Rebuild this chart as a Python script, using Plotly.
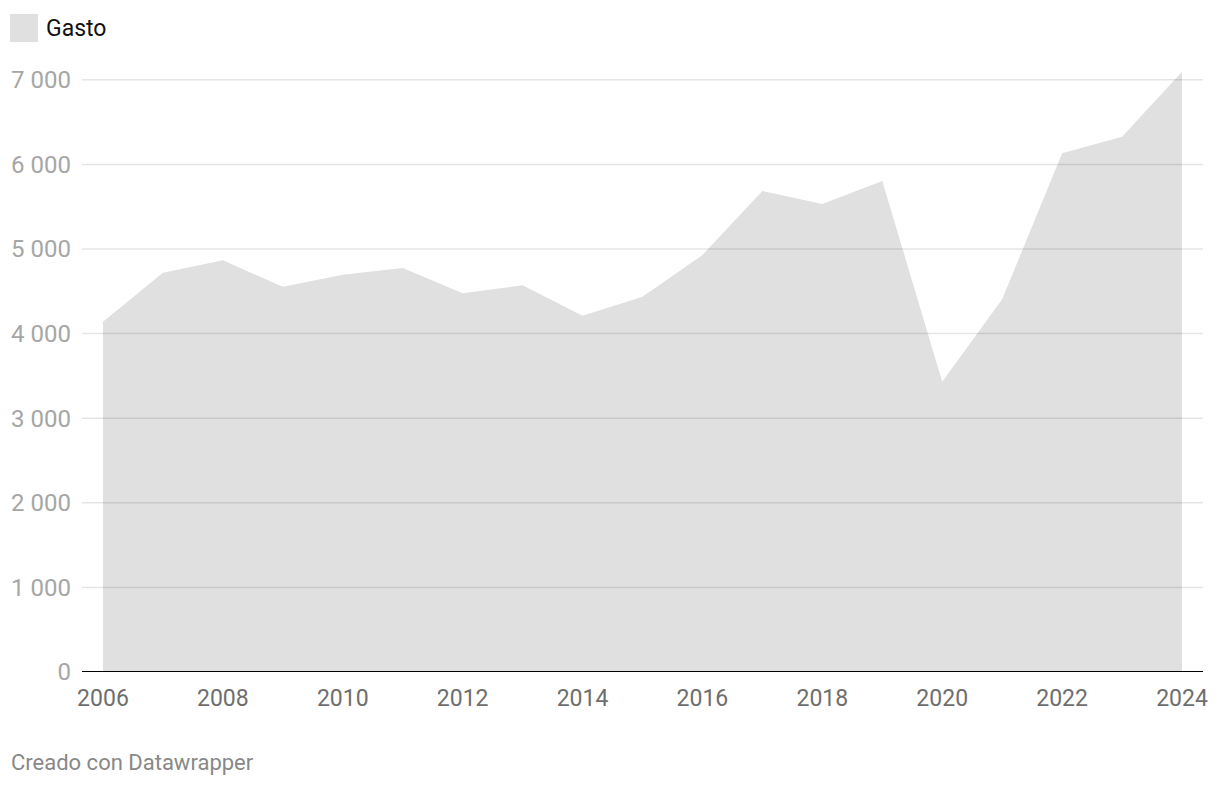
import plotly.graph_objects as go

years = list(range(2006, 2025))
gasto = [4141, 4720, 4866, 4554, 4696, 4775, 4476, 4571, 4212, 4436,
         4929, 5686, 5532, 5804, 3431, 4405, 6131, 6327, 7096]
y_ticks = [0, 1000, 2000, 3000, 4000, 5000, 6000, 7000]
x_ticks = [2006, 2008, 2010, 2012, 2014, 2016, 2018, 2020, 2022, 2024]
series_name = "Gasto"
footer = "Creado con Datawrapper"

FONT = "Roboto"
W, H = 1220, 788
L, R, T, B = 82, 17, 70, 116
PW, PH = W - L - R, H - T - B


def px_x(x):
    return (x - L) / PW


def px_y(y):
    return (H - B - y) / PH


fig = go.Figure()
fig.add_trace(go.Scatter(
    x=years, y=gasto, mode="lines", fill="tozeroy",
    line=dict(width=0, color="#e0e0e0"), fillcolor="#e0e0e0",
    name=series_name, showlegend=False, hoverinfo="x+y"))

shapes = []
for t in y_ticks[1:]:
    shapes.append(dict(type="line", xref="paper", x0=0, x1=1, yref="y", y0=t, y1=t,
                       line=dict(color="rgba(0,0,0,0.1)", width=1.5), layer="above"))
shapes.append(dict(type="line", xref="paper", x0=0, x1=1, yref="y", y0=0, y1=0,
                   line=dict(color="#000000", width=2), layer="above"))
# legend swatch
shapes.append(dict(type="rect", xref="paper", yref="paper",
                   x0=px_x(10), x1=px_x(38), y0=px_y(42), y1=px_y(14),
                   fillcolor="#e0e0e0", line=dict(width=0), layer="above"))

fig.update_layout(
    width=W, height=H,
    margin=dict(l=L, r=R, t=T, b=B, autoexpand=False),
    plot_bgcolor="white", paper_bgcolor="white",
    separators=", ",
    font=dict(family=FONT),
    shapes=shapes,
    xaxis=dict(range=[2005.65, 2024.35], tickvals=x_ticks, showgrid=False, zeroline=False,
               showline=False, ticks="", tickfont=dict(size=23, color="#6e6e6e", family=FONT),
               ticklabelstandoff=10),
    yaxis=dict(range=[0, 7116], tickvals=y_ticks, tickformat=",d", showgrid=False,
               zeroline=False, showline=False, ticks="",
               tickfont=dict(size=24, color="#a6a6a6", family=FONT), ticklabelstandoff=10),
    annotations=[
        dict(text=series_name, xref="paper", yref="paper", x=px_x(44), y=px_y(28),
             xanchor="left", yanchor="middle", showarrow=False,
             font=dict(size=23, color="#111111", family=FONT)),
        dict(text=footer, xref="paper", yref="paper", x=px_x(9), y=px_y(762),
             xanchor="left", yanchor="middle", showarrow=False,
             font=dict(size=22, color="#888888", family=FONT)),
    ],
)
fig.write_html("out.html", config={"displayModeBar": False},
               post_script="document.body.style.margin='0';")
